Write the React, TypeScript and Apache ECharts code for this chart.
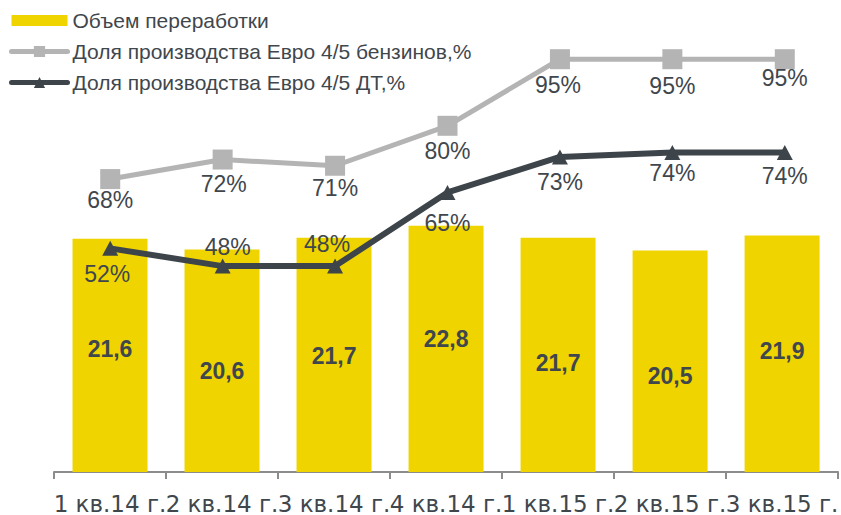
import React, { useEffect, useRef } from "react";
import * as echarts from "echarts";

const categories = ["1 кв.14 г.", "2 кв.14 г.", "3 кв.14 г.", "4 кв.14 г.", "1 кв.15 г.", "2 кв.15 г.", "3 кв.15 г."];
const refiningVolume = [21.6, 20.6, 21.7, 22.8, 21.7, 20.5, 21.9];
const gasolineEuro45Share = [68, 72.4, 71, 80, 95, 95, 95];
const dieselEuro45Share = [52.4, 48.4, 48.4, 65, 73, 74, 74];

const seriesNames = ["Объем переработки", "Доля производства Евро 4/5 бензинов,%", "Доля производства Евро 4/5 ДТ,%"];

// label placement tweaks (styling only)
const barLabelShift = [-6, 10, 1, -10, 8, 15, -3];
const gasolineLabelShift = [[0, 21], [1, 24], [0, 22], [0, 25], [-2, 26], [0, 27], [0, 19]];
const dieselLabelShift = [[-3, 26], [5, -19], [-8, -22], [0, 31], [0, 25], [0, 21], [0, 24]];

const YELLOW = "#F0D400";
const GRAY = "#B4B4B4";
const DARK = "#3D454B";
const TEXT = "#3F474D";
const FONT = "'Liberation Sans', Arial, sans-serif";

export default function App() {
  const ref = useRef<HTMLDivElement>(null);
  useEffect(() => {
    if (!ref.current) return;
    const chart = echarts.init(ref.current, undefined, { renderer: "svg" });
    chart.setOption({
      animation: false,
      backgroundColor: "#ffffff",
      textStyle: { fontFamily: FONT },
      legend: {
        orient: "vertical",
        left: 9,
        top: 10,
        padding: 0,
        itemWidth: 56,
        itemHeight: 14,
        itemGap: 10,
        lineStyle: { width: 5, cap: "round" },
        textStyle: { color: TEXT, fontSize: 21, fontFamily: FONT, lineHeight: 21 },
        data: [
          { name: seriesNames[0], icon: "path://M0,0H51V10H0Z" },
          { name: seriesNames[1] },
          { name: seriesNames[2] },
        ],
      },
      grid: [
        { left: 54, right: -3, top: 40, bottom: 42 },
        { left: 54, right: -3, top: 37, bottom: 34 },
      ],
      xAxis: [
        {
          type: "category",
          gridIndex: 0,
          data: categories,
          boundaryGap: true,
          axisLine: { lineStyle: { color: "#8C8C8C", width: 2 } },
          axisTick: { show: true, length: 7, lineStyle: { color: "#8C8C8C", width: 2 } },
          axisLabel: {
            interval: 0,
            color: TEXT,
            fontSize: 23,
            fontFamily: "'DejaVu Sans', sans-serif",
            margin: 20,
          },
        },
        {
          type: "category",
          gridIndex: 1,
          data: categories,
          boundaryGap: true,
          show: false,
        },
      ],
      yAxis: [
        { type: "value", gridIndex: 0, min: 0, max: 40, show: false, splitLine: { show: false } },
        { type: "value", gridIndex: 1, min: 0, max: 100, show: false, splitLine: { show: false } },
      ],
      series: [
        {
          name: seriesNames[0],
          type: "bar",
          xAxisIndex: 0,
          yAxisIndex: 0,
          barWidth: 75,
          itemStyle: { color: YELLOW },
          z: 1,
          label: {
            show: true,
            position: "inside",
            color: TEXT,
            fontSize: 23,
            fontWeight: "bold",
            fontFamily: FONT,
            formatter: (p: any) => Number(p.value).toFixed(1).replace(".", ","),
          },
          data: refiningVolume.map((v, i) => ({ value: v, label: { offset: [0, barLabelShift[i]] } })),
        },
        {
          name: seriesNames[1],
          type: "line",
          xAxisIndex: 1,
          yAxisIndex: 1,
          symbol: "rect",
          symbolSize: 20,
          lineStyle: { color: GRAY, width: 5 },
          itemStyle: { color: GRAY },
          z: 3,
          label: {
            show: true,
            position: "inside",
            color: TEXT,
            fontSize: 23,
            fontFamily: FONT,
            formatter: (p: any) => Math.round(Number(p.value)) + "%",
          },
          data: gasolineEuro45Share.map((v, i) => ({ value: v, label: { offset: gasolineLabelShift[i] } })),
        },
        {
          name: seriesNames[2],
          type: "line",
          xAxisIndex: 1,
          yAxisIndex: 1,
          symbol: "triangle",
          symbolSize: [16, 15],
          lineStyle: { color: DARK, width: 6 },
          itemStyle: { color: DARK },
          z: 4,
          label: {
            show: true,
            position: "inside",
            color: TEXT,
            fontSize: 23,
            fontFamily: FONT,
            formatter: (p: any) => Math.round(Number(p.value)) + "%",
          },
          data: dieselEuro45Share.map((v, i) => ({ value: v, label: { offset: dieselLabelShift[i] } })),
        },
      ],
    });
    return () => chart.dispose();
  }, []);
  return <div ref={ref} style={{ position: "absolute", left: 0, top: 0, width: 841, height: 515 }} />;
}
